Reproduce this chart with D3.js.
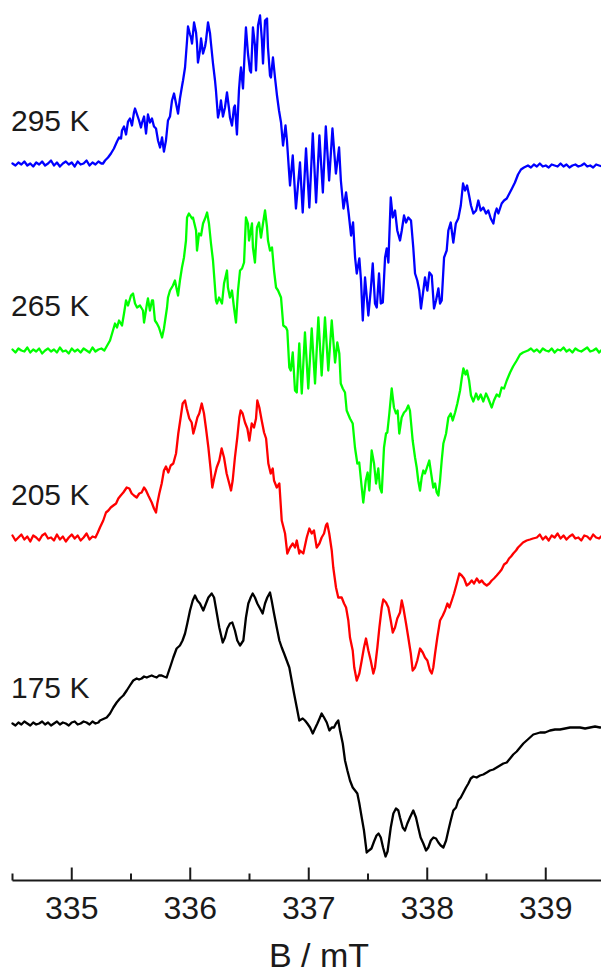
<!DOCTYPE html>
<html>
<head>
<meta charset="utf-8">
<script src="https://cdn.jsdelivr.net/npm/d3@7"></script>
<style>
  html, body { margin: 0; padding: 0; background: #ffffff; }
  svg { display: block; }
</style>
</head>
<body>
<svg id="chart" width="601" height="977"></svg>
<script>
// EPR spectra at four temperatures: [B (mT), signal (a.u.)], stacked with vertical offsets.
const temperatures = ["295 K", "265 K", "205 K", "175 K"];
const colors = ["#0000ff", "#00ff00", "#ff0000", "#000000"];
const offsets = [717, 530, 343, 157];          // stacking offset of each trace (a.u.)
const majorTicks = [335, 336, 337, 338, 339];
const minorTicks = [334.5, 335.5, 336.5, 337.5, 338.5, 339.5];
const axisTitle = "B / mT";

const s295 = [
[334.500,0],[334.525,-2],[334.550,1],[334.575,-1],[334.600,2],[334.625,-2],[334.650,0],[334.675,-3],[334.700,1],[334.725,-1],[334.750,2],[334.775,-2],[334.800,0],[334.825,3],[334.850,-2],[334.875,1],[334.900,-3],[334.925,0],[334.950,2],[334.975,-1],[335.000,1],[335.025,-3],[335.050,2],[335.075,-1],[335.100,0],[335.125,3],[335.150,-2],[335.175,1],[335.200,-1],[335.225,2],[335.250,0],[335.264,0],[335.281,3],
[335.306,6],[335.331,10],[335.356,15],[335.382,22],[335.399,26],[335.416,25],[335.424,33],[335.441,37],[335.458,29],[335.475,42],[335.491,45],[335.508,38],[335.525,51],[335.534,55],[335.551,49],[335.568,43],[335.584,36],[335.593,41],[335.610,47],[335.627,30],[335.643,49],[335.660,41],[335.677,45],[335.694,37],[335.711,35],[335.728,23],[335.745,16],[335.762,26],[335.778,12],[335.795,23],[335.812,43],[335.829,47],[335.846,63],[335.863,70],[335.880,60],[335.897,50],[335.913,65],[335.930,77],[335.939,83],[335.956,96],[335.973,123],[335.981,137],[335.998,129],[336.006,126],[336.015,120],[336.032,141],[336.049,131],[336.057,120],[336.065,101],[336.082,113],[336.091,125],[336.108,110],[336.125,117],[336.133,123],[336.150,141],[336.167,130],[336.175,120],[336.192,100],[336.209,83],[336.217,73],[336.234,46],[336.251,55],[336.259,63],[336.276,47],[336.293,56],[336.310,71],[336.327,55],[336.335,46],[336.352,38],[336.369,56],[336.377,58],[336.394,29],[336.411,73],[336.420,87],[336.428,96],[336.445,75],[336.462,118],[336.470,136],[336.487,110],[336.504,93],[336.513,91],[336.529,136],[336.546,118],[336.555,93],[336.572,138],[336.589,148],[336.605,123],[336.614,100],[336.631,143],[336.648,145],[336.656,116],[336.673,88],[336.681,86],[336.698,106],[336.715,86],[336.732,68],[336.749,53],[336.766,41],[336.783,18],[336.804,38],[336.816,23],[336.833,-7],[336.842,-22],[336.865,8],[336.892,-45],[336.926,1],[336.949,-49],[336.977,15],[337.005,-44],[337.034,30],[337.062,-39],[337.090,28],[337.119,-29],[337.144,37],[337.172,-17],[337.200,35],[337.229,-10],[337.256,16],[337.271,-17],[337.293,-45],[337.315,-29],[337.336,-49],[337.357,-72],[337.374,-59],[337.391,-94],[337.405,-110],[337.427,-95],[337.441,-117],[337.456,-157],[337.475,-114],[337.490,-134],[337.503,-152],[337.523,-127],[337.540,-100],[337.559,-140],[337.574,-144],[337.593,-110],[337.608,-140],[337.625,-139],[337.644,-94],[337.658,-85],[337.672,-99],[337.692,-34],[337.709,-54],[337.728,-47],[337.747,-67],[337.770,-77],[337.785,-67],[337.804,-52],[337.821,-59],[337.840,-54],[337.863,-57],[337.882,-84],[337.897,-110],[337.916,-117],[337.933,-127],[337.947,-145],[337.967,-127],[337.981,-114],[338.001,-127],[338.018,-109],[338.038,-112],[338.057,-145],[338.074,-137],[338.094,-125],[338.108,-140],[338.122,-137],[338.142,-94],[338.164,-87],[338.178,-67],[338.198,-59],[338.220,-79],[338.241,-60],[338.262,-55],[338.283,-42],[338.302,-20],[338.319,-27],[338.336,-22],[338.353,-32],[338.369,-42],[338.389,-50],[338.412,-47],[338.431,-37],[338.451,-47],[338.473,-44],[338.496,-50],[338.515,-47],[338.536,-55],[338.558,-60],[338.572,-50],[338.586,-45],[338.600,-50],[338.628,-40],[338.648,-37],[338.671,-35],[338.693,-30],[338.715,-25],[338.740,-19],[338.766,-11],[338.791,-6],[338.816,-4],
[338.850,-2],[338.875,-4],[338.900,-1],[338.925,-3],[338.950,0],[338.975,-3],[339.000,-2],[339.025,-4],[339.050,-1],[339.075,-2],[339.100,-3],[339.125,0],[339.150,-3],[339.175,-1],[339.200,-4],[339.225,-2],[339.250,-1],[339.275,-3],[339.300,-2],[339.325,0],[339.350,-3],[339.375,-2],[339.400,-4],[339.425,-1],[339.450,-2],[339.475,-3]
];

const s265 = [
[334.500,1],[334.525,-2],[334.550,2],[334.575,0],[334.600,-1],[334.625,3],[334.650,-2],[334.675,1],[334.700,-1],[334.725,2],[334.750,-3],[334.775,0],[334.800,2],[334.825,-1],[334.850,1],[334.875,-2],[334.900,3],[334.925,-1],[334.950,0],[334.975,-3],[335.000,2],[335.025,-1],[335.050,1],[335.075,-2],[335.100,2],[335.125,0],[335.150,-2],[335.175,3],[335.200,-1],[335.225,1],[335.250,2],[335.275,0],
[335.323,10],[335.365,27],[335.382,23],[335.399,30],[335.424,25],[335.441,37],[335.458,50],[335.475,45],[335.500,55],[335.517,57],[335.534,47],[335.551,43],[335.576,45],[335.601,40],[335.610,28],[335.635,47],[335.643,52],[335.660,40],[335.677,50],[335.686,50],[335.702,30],[335.719,27],[335.736,23],[335.762,13],[335.778,22],[335.804,43],[335.812,53],[335.829,60],[335.854,65],[335.871,70],[335.888,60],[335.897,55],[335.913,70],[335.930,83],[335.947,93],[335.964,110],[335.973,133],[335.989,137],[336.015,132],[336.023,133],[336.049,120],[336.057,100],[336.074,117],[336.091,115],[336.108,127],[336.125,132],[336.142,138],[336.158,127],[336.175,107],[336.192,90],[336.217,50],[336.226,47],[336.243,53],[336.268,47],[336.285,67],[336.310,80],[336.318,63],[336.335,53],[336.352,60],[336.369,43],[336.386,28],[336.403,60],[336.420,80],[336.437,82],[336.454,88],[336.470,133],[336.487,127],[336.496,110],[336.521,127],[336.529,103],[336.546,88],[336.563,123],[336.580,128],[336.597,113],[336.614,127],[336.631,140],[336.648,123],[336.656,110],[336.673,100],[336.690,103],[336.707,80],[336.724,63],[336.741,60],[336.766,53],[336.785,25],[336.808,23],[336.819,20],[336.836,-17],[336.848,-20],[336.865,-2],[336.884,-40],[336.899,-42],[336.920,7],[336.941,-43],[336.968,18],[336.996,-38],[337.025,22],[337.053,-33],[337.081,33],[337.109,-25],[337.137,33],[337.165,-20],[337.194,30],[337.222,-12],[337.241,8],[337.258,-3],[337.270,-33],[337.287,-38],[337.306,-42],[337.320,-60],[337.348,-68],[337.371,-73],[337.390,-97],[337.410,-113],[337.426,-112],[337.447,-137],[337.460,-152],[337.481,-130],[337.497,-122],[337.511,-140],[337.531,-100],[337.551,-113],[337.568,-133],[337.587,-118],[337.601,-137],[337.616,-142],[337.635,-97],[337.652,-83],[337.663,-82],[337.680,-63],[337.700,-38],[337.719,-57],[337.736,-63],[337.750,-60],[337.764,-83],[337.784,-67],[337.804,-62],[337.821,-60],[337.840,-55],[337.854,-60],[337.877,-90],[337.897,-107],[337.911,-117],[337.924,-130],[337.939,-140],[337.953,-127],[337.967,-120],[337.981,-123],[337.995,-118],[338.017,-110],[338.038,-127],[338.051,-137],[338.066,-133],[338.080,-142],[338.094,-145],[338.108,-130],[338.122,-110],[338.136,-93],[338.159,-83],[338.178,-67],[338.198,-63],[338.215,-70],[338.235,-62],[338.254,-53],[338.277,-40],[338.291,-28],[338.305,-18],[338.323,-24],[338.336,-20],[338.353,-30],[338.369,-45],[338.389,-51],[338.412,-43],[338.431,-49],[338.451,-44],[338.473,-51],[338.496,-43],[338.515,-48],[338.544,-57],[338.563,-50],[338.586,-44],[338.608,-46],[338.628,-37],[338.648,-38],[338.671,-30],[338.699,-22],[338.724,-16],[338.755,-10],[338.783,-4],[338.808,-2],
[338.850,0],[338.875,2],[338.900,-1],[338.925,1],[338.950,-2],[338.975,2],[339.000,0],[339.025,-1],[339.050,2],[339.075,-2],[339.100,1],[339.125,0],[339.150,3],[339.175,-1],[339.200,1],[339.225,-2],[339.250,2],[339.275,0],[339.300,-1],[339.325,1],[339.350,3],[339.375,-1],[339.400,0],[339.425,2],[339.450,-2],[339.475,1]
];

const s205 = [
[334.500,2],[334.525,-3],[334.550,0],[334.575,3],[334.600,-2],[334.625,1],[334.650,-4],[334.675,2],[334.700,0],[334.725,-3],[334.750,2],[334.775,4],[334.800,-1],[334.825,0],[334.850,-3],[334.875,3],[334.900,-2],[334.925,1],[334.950,-4],[334.975,0],[335.000,3],[335.025,-1],[335.050,2],[335.075,-3],[335.100,0],[335.125,4],[335.150,-2],[335.175,1],[335.200,0],
[335.220,5],[335.238,10],[335.266,17],[335.289,25],[335.309,27],[335.329,30],[335.351,32],[335.374,34],[335.393,39],[335.413,42],[335.435,45],[335.464,50],[335.486,49],[335.506,44],[335.525,42],[335.548,40],[335.570,44],[335.590,45],[335.610,50],[335.627,47],[335.646,42],[335.675,35],[335.694,29],[335.711,25],[335.722,34],[335.739,44],[335.759,54],[335.778,67],[335.795,71],[335.815,65],[335.835,72],[335.857,74],[335.880,84],[335.899,104],[335.919,120],[335.936,134],[335.956,137],[335.970,129],[335.992,119],[336.012,115],[336.026,104],[336.040,110],[336.060,120],[336.076,124],[336.097,134],[336.116,124],[336.133,109],[336.153,90],[336.173,67],[336.186,50],[336.203,60],[336.223,70],[336.245,77],[336.265,89],[336.285,80],[336.307,64],[336.329,54],[336.344,47],[336.358,57],[336.377,80],[336.397,100],[336.414,120],[336.425,127],[336.442,124],[336.462,115],[336.482,109],[336.499,97],[336.519,114],[336.538,110],[336.555,119],[336.566,137],[336.583,130],[336.603,117],[336.623,105],[336.640,99],[336.659,74],[336.679,64],[336.696,69],[336.707,57],[336.730,50],[336.752,54],[336.772,17],[336.800,4],[336.819,-16],[336.842,-10],[336.865,-6],[336.884,-10],[336.899,-3],[336.920,-16],[336.926,-13],[336.954,-16],[336.983,0],[337.005,9],[337.025,4],[337.044,7],[337.067,-10],[337.090,-6],[337.109,0],[337.129,4],[337.145,12],[337.156,14],[337.173,4],[337.194,-13],[337.207,-30],[337.222,-43],[337.230,-50],[337.249,-60],[337.278,-60],[337.298,-66],[337.315,-70],[337.334,-83],[337.348,-100],[337.371,-113],[337.384,-130],[337.405,-143],[337.427,-136],[337.447,-123],[337.466,-110],[337.483,-101],[337.503,-113],[337.523,-123],[337.545,-136],[337.559,-130],[337.579,-110],[337.596,-90],[337.616,-70],[337.629,-62],[337.652,-65],[337.672,-70],[337.692,-83],[337.709,-95],[337.728,-90],[337.747,-81],[337.770,-75],[337.785,-63],[337.798,-70],[337.821,-86],[337.840,-100],[337.861,-116],[337.877,-133],[337.897,-130],[337.916,-123],[337.939,-111],[337.962,-115],[337.981,-120],[338.001,-123],[338.023,-133],[338.038,-136],[338.051,-130],[338.066,-116],[338.085,-100],[338.108,-83],[338.131,-78],[338.150,-73],[338.170,-66],[338.187,-70],[338.207,-63],[338.226,-56],[338.249,-46],[338.271,-36],[338.291,-38],[338.311,-41],[338.333,-48],[338.355,-46],[338.375,-43],[338.395,-46],[338.418,-41],[338.440,-45],[338.460,-43],[338.479,-46],[338.502,-48],[338.524,-46],[338.544,-43],[338.563,-41],[338.586,-38],[338.608,-35],[338.628,-32],[338.648,-27],[338.671,-25],[338.690,-21],[338.707,-19],[338.726,-16],[338.749,-13],[338.766,-10],[338.783,-8],[338.808,-5],[338.839,-3],[338.867,-2],[338.892,-1],
[338.925,0],[338.950,3],[338.975,-2],[339.000,1],[339.025,-3],[339.050,2],[339.075,0],[339.100,4],[339.125,-1],[339.150,2],[339.175,-2],[339.200,1],[339.225,3],[339.250,-1],[339.275,0],[339.300,-3],[339.325,2],[339.350,1],[339.375,-2],[339.400,3],[339.425,0],[339.450,-1],[339.475,2]
];

const s175 = [
[334.500,0],[334.525,-2],[334.550,1],[334.575,-1],[334.600,2],[334.625,0],[334.650,-2],[334.675,1],[334.700,-1],[334.725,0],[334.750,2],[334.775,-1],[334.800,1],[334.825,-2],[334.850,0],[334.875,2],[334.900,-1],[334.925,1],[334.950,0],[334.975,-2],[335.000,1],[335.025,2],[335.050,-1],[335.075,0],[335.100,2],[335.125,1],[335.150,-1],[335.175,2],[335.200,0],[335.225,1],
[335.238,3],[335.295,6],[335.323,10],[335.351,16],[335.379,21],[335.407,25],[335.435,28],[335.464,33],[335.491,38],[335.519,43],[335.548,45],[335.568,44],[335.590,45],[335.610,47],[335.633,46],[335.652,47],[335.675,48],[335.694,47],[335.717,46],[335.736,48],[335.759,48],[335.778,47],[335.801,46],[335.815,51],[335.835,58],[335.857,66],[335.885,75],[335.913,78],[335.935,83],[335.956,90],[335.975,100],[335.998,113],[336.021,123],[336.040,128],[336.060,123],[336.082,120],[336.110,113],[336.133,120],[336.153,126],[336.181,130],[336.201,126],[336.223,111],[336.245,96],[336.274,81],[336.293,86],[336.313,95],[336.335,100],[336.355,101],[336.377,93],[336.397,83],[336.420,78],[336.448,83],[336.470,106],[336.490,120],[336.510,126],[336.527,130],[336.546,126],[336.566,120],[336.589,115],[336.611,110],[336.631,120],[336.650,126],[336.673,131],[336.687,123],[336.707,110],[336.730,96],[336.752,83],[336.772,76],[336.792,70],[336.814,63],[336.836,56],[336.856,43],[336.876,30],[336.899,16],[336.920,3],[336.949,5],[336.968,3],[336.988,0],[337.011,-4],[337.034,-10],[337.053,-5],[337.073,0],[337.095,6],[337.109,10],[337.129,6],[337.152,1],[337.174,-7],[337.194,-4],[337.213,-4],[337.230,0],[337.249,3],[337.264,-7],[337.287,-20],[337.306,-37],[337.326,-47],[337.348,-57],[337.371,-64],[337.391,-67],[337.410,-70],[337.427,-80],[337.447,-94],[337.466,-107],[337.489,-129],[337.508,-127],[337.529,-125],[337.551,-118],[337.572,-112],[337.589,-110],[337.608,-114],[337.627,-124],[337.648,-133],[337.665,-128],[337.692,-104],[337.714,-90],[337.736,-85],[337.756,-87],[337.770,-94],[337.793,-104],[337.812,-107],[337.832,-100],[337.854,-94],[337.882,-87],[337.905,-94],[337.924,-104],[337.944,-114],[337.967,-120],[337.990,-127],[338.009,-124],[338.030,-117],[338.052,-114],[338.074,-115],[338.094,-119],[338.114,-122],[338.136,-124],[338.159,-117],[338.178,-107],[338.198,-97],[338.220,-87],[338.243,-84],[338.262,-77],[338.283,-74],[338.305,-69],[338.327,-64],[338.347,-60],[338.367,-55],[338.389,-53],[338.417,-54],[338.445,-52],[338.473,-51],[338.502,-49],[338.529,-47],[338.558,-46],[338.586,-44],[338.614,-42],[338.642,-40],[338.671,-39],[338.699,-35],[338.726,-31],[338.755,-28],[338.783,-24],[338.811,-20],[338.839,-17],[338.867,-14],[338.895,-11],[338.924,-10],[338.952,-9],[338.994,-9],[339.036,-7],[339.078,-6],[339.120,-6],[339.163,-5],[339.205,-4],[339.247,-4],[339.289,-4],[339.332,-5],[339.374,-4],[339.416,-3],[339.458,-4],[339.500,-3]
];

const spectra = [s295, s265, s205, s175];

const svg = d3.select("#chart");
const W = 601, H = 977;
svg.append("rect").attr("width", W).attr("height", H).attr("fill", "#ffffff");

const x = d3.scaleLinear().domain([334.5, 339.5]).range([12.5, 605]);
const y = d3.scaleLinear().domain([0, 880]).range([880.5, 0.5]);

const fontFamily = "'Liberation Sans', Arial, Helvetica, sans-serif";

// traces
const plot = svg.append("g");
spectra.forEach((data, i) => {
  const line = d3.line()
    .x(d => x(d[0]))
    .y(d => y(offsets[i] + d[1]));
  plot.append("path")
    .datum(data)
    .attr("fill", "none")
    .attr("stroke", colors[i])
    .attr("stroke-width", 2.3)
    .attr("stroke-linejoin", "round")
    .attr("stroke-linecap", "round")
    .attr("d", line);
});

// temperature labels
const labelBaselines = [131, 316, 505, 698];
svg.append("g").selectAll("text")
  .data(temperatures)
  .join("text")
  .attr("x", 11)
  .attr("y", (d, i) => labelBaselines[i])
  .attr("font-family", fontFamily)
  .attr("font-size", 30)
  .attr("fill", "#1a1a1a")
  .text(d => d);

// bottom axis: inward ticks, labelled at whole mT
const axisY = y(0);
const axisG = svg.append("g");
axisG.append("line")
  .attr("x1", x(334.5)).attr("x2", W + 5)
  .attr("y1", axisY).attr("y2", axisY)
  .attr("stroke", "#1a1a1a").attr("stroke-width", 2);

axisG.selectAll("line.major")
  .data(majorTicks)
  .join("line")
  .attr("class", "major")
  .attr("x1", d => x(d)).attr("x2", d => x(d))
  .attr("y1", axisY).attr("y2", axisY - 13)
  .attr("stroke", "#1a1a1a").attr("stroke-width", 2);

axisG.selectAll("line.minor")
  .data(minorTicks)
  .join("line")
  .attr("class", "minor")
  .attr("x1", d => x(d)).attr("x2", d => x(d))
  .attr("y1", axisY).attr("y2", axisY - 7)
  .attr("stroke", "#1a1a1a").attr("stroke-width", 2);

axisG.selectAll("text.tick")
  .data(majorTicks)
  .join("text")
  .attr("class", "tick")
  .attr("x", d => x(d))
  .attr("y", axisY + 38)
  .attr("text-anchor", "middle")
  .attr("font-family", fontFamily)
  .attr("font-size", 32)
  .attr("fill", "#1a1a1a")
  .text(d => d);

svg.append("text")
  .attr("x", 319)
  .attr("y", 967)
  .attr("text-anchor", "middle")
  .attr("font-family", fontFamily)
  .attr("font-size", 34)
  .attr("fill", "#1a1a1a")
  .text(axisTitle);
</script>
</body>
</html>
